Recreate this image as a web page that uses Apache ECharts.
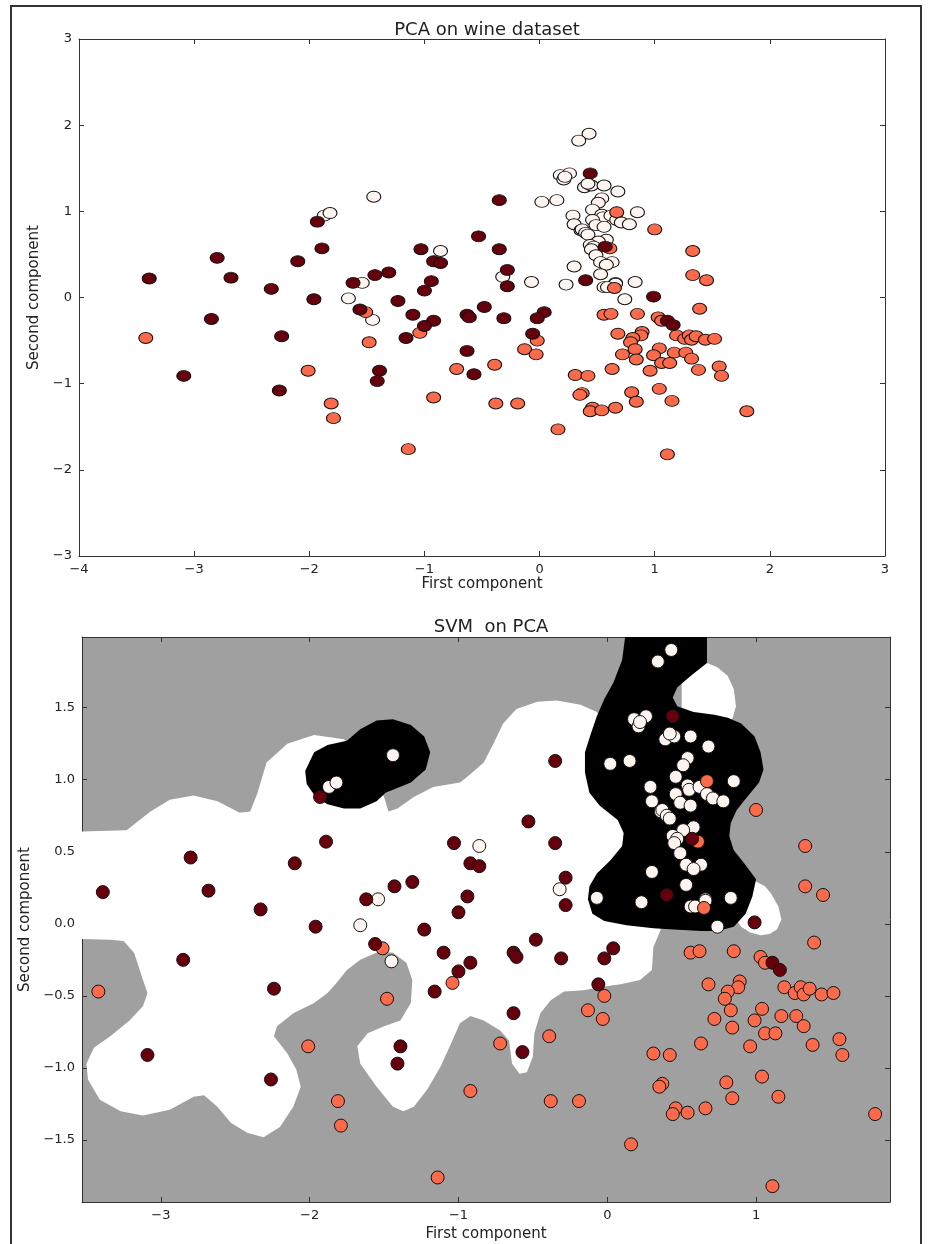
<!DOCTYPE html>
<html lang="en">
<head>
<meta charset="UTF-8">
<title>PCA / SVM on wine</title>
<script src="https://cdn.jsdelivr.net/npm/echarts@6/dist/echarts.min.js"></script>
<style>
  html, body { margin: 0; padding: 0; background: #fff; }
  #main { width: 932px; height: 1244px; }
</style>
</head>
<body>
<div id="main"></div>
<script>
// wine samples projected on the first two principal components, per class
const class0White = [
  [-1.87, 0.95], [-1.82, 0.98], [-1.44, 1.17], [-1.54, 0.17], [-1.66, -0.01], [-1.45, -0.26], [-0.86, 0.54], [-0.32, 0.24], [-0.07, 0.18],
  [0.43, 1.90], [0.34, 1.82], [0.18, 1.42], [0.26, 1.44], [0.21, 1.37], [0.22, 1.40], [0.39, 1.28], [0.45, 1.30], [0.42, 1.32], [0.56, 1.30], [0.68, 1.23],
  [0.02, 1.11], [0.15, 1.13], [0.54, 1.15], [0.51, 1.10], [0.85, 0.99], [0.46, 1.02], [0.54, 0.96], [0.55, 0.93], [0.29, 0.95], [0.62, 0.95],
  [0.46, 0.90], [0.67, 0.90], [0.71, 0.87], [0.78, 0.85], [0.30, 0.85], [0.49, 0.84], [0.56, 0.82], [0.36, 0.78], [0.37, 0.79], [0.40, 0.75], [0.42, 0.73],
  [0.58, 0.67], [0.51, 0.65], [0.44, 0.61], [0.47, 0.59], [0.45, 0.56], [0.49, 0.49], [0.63, 0.41], [0.53, 0.41], [0.58, 0.38], [0.30, 0.36], [0.53, 0.27],
  [0.23, 0.15], [0.83, 0.18], [0.66, 0.17], [0.66, 0.16], [0.56, 0.12], [0.59, 0.12], [0.74, -0.02]
];
const class1Orange = [
  [-1.51, -0.17], [0.67, 0.99], [1.00, 0.79], [0.61, 0.57], [1.33, 0.54], [1.33, 0.26], [1.45, 0.20], [0.65, 0.11], [1.39, -0.13],
  [0.56, -0.20], [0.62, -0.19], [0.85, -0.19], [1.03, -0.23], [1.06, -0.27], [0.68, -0.42], [0.89, -0.40], [0.88, -0.44], [0.81, -0.47],
  [0.79, -0.52], [1.19, -0.44], [1.26, -0.48], [1.30, -0.44], [1.32, -0.49], [1.36, -0.45], [1.44, -0.49], [1.52, -0.48], [0.83, -0.60],
  [1.04, -0.59], [1.17, -0.64], [1.27, -0.64], [0.72, -0.66], [0.99, -0.67], [0.84, -0.72], [1.32, -0.71], [1.06, -0.76], [1.13, -0.76],
  [1.56, -0.80], [0.63, -0.83], [0.96, -0.85], [1.38, -0.84], [0.31, -0.90], [0.42, -0.91], [1.58, -0.91], [1.04, -1.06], [0.37, -1.11],
  [0.35, -1.13], [0.80, -1.10], [0.84, -1.21], [1.15, -1.20], [0.46, -1.28], [0.44, -1.32], [0.54, -1.31], [0.66, -1.28], [1.80, -1.32],
  [0.16, -1.53], [1.11, -1.82], [-1.04, -0.41], [-0.02, -0.50], [-1.48, -0.52], [-0.13, -0.60], [-0.03, -0.66], [-0.39, -0.78],
  [-0.72, -0.83], [-0.92, -1.16], [-0.38, -1.23], [-0.19, -1.23], [-1.14, -1.76], [-3.42, -0.47], [-2.01, -0.85], [-1.81, -1.23], [-1.79, -1.40]
];
const class2Dark = [
  [-1.93, 0.88], [-1.89, 0.57], [-1.03, 0.56], [-2.80, 0.46], [-2.10, 0.42], [-3.39, 0.22], [-2.68, 0.23], [-1.43, 0.26], [-1.31, 0.29],
  [-1.62, 0.17], [-2.33, 0.10], [-1.96, -0.02], [-1.23, -0.04], [-1.00, 0.08], [-1.56, -0.14], [-1.10, -0.20], [0.44, 1.44], [0.57, 0.59],
  [0.40, 0.20], [0.99, 0.01], [-0.35, 1.13], [-0.53, 0.71], [-0.35, 0.56], [-0.92, 0.42], [-0.86, 0.40], [-0.28, 0.32], [-0.28, 0.13],
  [-0.94, 0.19], [-0.48, -0.11], [0.04, -0.17], [1.11, -0.27], [1.16, -0.32], [-0.63, -0.20], [-0.61, -0.23], [-0.31, -0.24], [-0.02, -0.24],
  [-0.92, -0.27], [-1.00, -0.33], [-1.16, -0.47], [-0.06, -0.42], [-0.63, -0.62], [-1.39, -0.85], [-0.57, -0.89], [-1.41, -0.97],
  [-2.85, -0.25], [-2.24, -0.45], [-3.09, -0.91], [-2.26, -1.08]
];

// decision regions of the SVM, outlines in (first, second) component units
const whiteZone = [
  [-3.7, 0.64], [-3.23, 0.65], [-3.07, 0.78], [-2.94, 0.86], [-2.78, 0.89], [-2.62, 0.85], [-2.47, 0.77], [-2.40, 0.78], [-2.35, 0.91],
  [-2.29, 1.12], [-2.15, 1.25], [-1.97, 1.31], [-1.77, 1.28], [-1.60, 1.10], [-1.50, 0.88], [-1.47, 0.78], [-1.41, 0.80], [-1.30, 0.88],
  [-1.17, 0.95], [-0.99, 0.98], [-0.94, 1.02], [-0.83, 1.12], [-0.76, 1.26], [-0.70, 1.39], [-0.61, 1.49], [-0.47, 1.54], [-0.34, 1.55],
  [-0.18, 1.52], [-0.07, 1.47], [0.20, 1.00], [0.30, 0.30], [0.36, -0.04], [0.31, -0.16], [0.30, -0.32], [0.22, -0.39], [0.09, -0.42],
  [-0.02, -0.435], [-0.16, -0.46], [-0.29, -0.47], [-0.38, -0.53], [-0.45, -0.62], [-0.49, -0.76], [-0.50, -0.92], [-0.54, -1.03],
  [-0.59, -1.04], [-0.64, -0.97], [-0.66, -0.81], [-0.72, -0.74], [-0.83, -0.67], [-0.92, -0.64], [-0.99, -0.69], [-1.05, -0.83],
  [-1.12, -0.99], [-1.21, -1.15], [-1.30, -1.27], [-1.37, -1.30], [-1.44, -1.27], [-1.55, -1.13], [-1.66, -0.97], [-1.68, -0.85],
  [-1.61, -0.76], [-1.50, -0.71], [-1.39, -0.67], [-1.32, -0.55], [-1.31, -0.39], [-1.35, -0.27], [-1.44, -0.20], [-1.53, -0.19],
  [-1.66, -0.25], [-1.75, -0.32], [-1.82, -0.41], [-1.88, -0.48], [-1.97, -0.55], [-2.11, -0.62], [-2.22, -0.71], [-2.24, -0.78],
  [-2.15, -0.90], [-2.09, -1.01], [-2.06, -1.13], [-2.11, -1.27], [-2.20, -1.41], [-2.31, -1.48], [-2.42, -1.45], [-2.53, -1.38],
  [-2.62, -1.27], [-2.71, -1.19], [-2.78, -1.20], [-2.94, -1.29], [-3.12, -1.33], [-3.27, -1.30], [-3.41, -1.22], [-3.49, -1.08],
  [-3.50, -0.97], [-3.45, -0.86], [-3.34, -0.78], [-3.21, -0.67], [-3.12, -0.57], [-3.09, -0.48], [-3.12, -0.39], [-3.18, -0.20],
  [-3.25, -0.12], [-3.34, -0.11], [-3.7, -0.106]
];
const whitePocketTop = [
  [0.62, 1.83], [0.74, 1.78], [0.81, 1.72], [0.85, 1.63], [0.865, 1.51], [0.84, 1.42], [0.60, 1.40], [0.50, 1.50], [0.50, 1.70]
];
const whitePocketRight = [
  [0.95, 0.32], [1.06, 0.26], [1.10, 0.21], [1.15, 0.12], [1.17, 0.03], [1.14, -0.04], [1.09, -0.07], [1.03, -0.08],
  [0.96, -0.06], [0.90, -0.02], [0.85, 0.05], [0.88, 0.20]
];
const blackBlobSmall = [
  [-2.03, 1.06], [-1.97, 1.19], [-1.88, 1.24], [-1.75, 1.27], [-1.66, 1.35], [-1.55, 1.41], [-1.44, 1.42], [-1.32, 1.38],
  [-1.23, 1.30], [-1.19, 1.19], [-1.22, 1.07], [-1.32, 0.98], [-1.44, 0.93], [-1.49, 0.91], [-1.55, 0.85], [-1.66, 0.80],
  [-1.77, 0.80], [-1.88, 0.83], [-1.96, 0.88], [-2.02, 0.97]
];
const blackBlobBig = [
  [0.12, 2.05], [0.67, 2.05], [0.67, 1.81], [0.56, 1.72], [0.47, 1.64], [0.44, 1.57], [0.47, 1.51], [0.58, 1.47], [0.72, 1.45],
  [0.81, 1.43], [0.90, 1.39], [0.99, 1.30], [1.03, 1.19], [1.05, 1.07], [1.02, 0.98], [0.94, 0.88], [0.87, 0.79], [0.83, 0.70],
  [0.82, 0.61], [0.85, 0.51], [0.92, 0.42], [1.00, 0.31], [0.975, 0.19], [0.93, 0.07], [0.85, -0.02], [0.74, -0.05], [0.63, -0.05],
  [0.45, -0.04], [0.31, -0.03], [0.13, -0.01], [-0.02, 0.02], [-0.10, 0.07], [-0.13, 0.17], [-0.12, 0.26], [-0.07, 0.35],
  [0.02, 0.44], [0.10, 0.54], [0.11, 0.63], [0.07, 0.72], [-0.05, 0.82], [-0.12, 0.91], [-0.15, 1.05], [-0.15, 1.19], [-0.11, 1.32],
  [-0.07, 1.44], [-0.02, 1.56], [0.04, 1.67], [0.10, 1.83]
];

// tick values
const topXTicks = [-4, -3, -2, -1, 0, 1, 2, 3];
const topYTicks = [-3, -2, -1, 0, 1, 2, 3];
const svmXTicks = [-3, -2, -1, 0, 1];
const svmYTicks = [-1.5, -1.0, -0.5, 0.0, 0.5, 1.0, 1.5];

const FONT = 'DejaVu Sans';
const minus = s => String(s).replace('-', '\u2212');

const regionLayers = [
  { shape: whiteZone, fill: '#ffffff' },
  { shape: whitePocketTop, fill: '#ffffff' },
  { shape: whitePocketRight, fill: '#ffffff' },
  { shape: blackBlobSmall, fill: '#000000' },
  { shape: blackBlobBig, fill: '#000000' }
];

const frameLine = { show: true, onZero: false, lineStyle: { color: '#333', width: 1 } };
const tickIn = { show: true, inside: true, length: 5, lineStyle: { color: '#333' } };

function axisPair(kind, gridIndex, min, max, ticks, fmt, extra) {
  const main = Object.assign({
    type: 'value', gridIndex, min, max,
    position: kind === 'x' ? 'bottom' : 'left',
    axisLine: frameLine,
    axisTick: Object.assign({ customValues: ticks }, tickIn),
    axisLabel: { customValues: ticks, formatter: fmt, color: '#222', fontSize: 13, fontFamily: FONT, margin: 7 },
    splitLine: { show: false }
  }, extra);
  const mirror = {
    type: 'value', gridIndex, min, max,
    position: kind === 'x' ? 'top' : 'right',
    axisLine: frameLine,
    axisTick: Object.assign({ customValues: ticks }, tickIn),
    axisLabel: { show: false },
    splitLine: { show: false }
  };
  return [main, mirror];
}

function axisName(text, gap, rotate) {
  return {
    name: text, nameLocation: 'middle', nameGap: gap, nameRotate: rotate,
    nameTextStyle: { fontSize: 15, color: '#222', fontFamily: FONT }
  };
}

const xAxes = [
  ...axisPair('x', 0, -4, 3, topXTicks, v => minus(v), axisName('First component', 20, 0)),
  ...axisPair('x', 1, -3.53, 1.9, svmXTicks, v => minus(v), axisName('First component', 25, 0))
];
const yAxes = [
  ...axisPair('y', 0, -3, 3, topYTicks, v => minus(v), axisName('Second component', 37, 90)),
  ...axisPair('y', 1, -1.93, 1.99, svmYTicks, v => minus(Number(v).toFixed(1)), axisName('Second component', 45, 90))
];

function scatterOf(data, color, axis, size) {
  return {
    type: 'scatter', data, xAxisIndex: axis, yAxisIndex: axis,
    symbol: 'circle', symbolSize: size,
    itemStyle: { color, borderColor: '#111', borderWidth: 1, opacity: 1 },
    silent: true, z: 5
  };
}

const option = {
  animation: false,
  backgroundColor: '#fff',
  textStyle: { fontFamily: FONT },
  title: [
    { text: 'PCA on wine dataset', left: 482, top: 16, textAlign: 'center',
      textStyle: { fontSize: 18, fontWeight: 'normal', color: '#222', fontFamily: FONT } },
    { text: 'SVM  on PCA', left: 486, top: 613, textAlign: 'center',
      textStyle: { fontSize: 18, fontWeight: 'normal', color: '#222', fontFamily: FONT } }
  ],
  grid: [
    { left: 79, top: 39, width: 806, height: 517, show: true, backgroundColor: '#fff', borderWidth: 0 },
    { left: 82, top: 637, width: 808, height: 565, show: true, backgroundColor: '#a0a0a0', borderWidth: 0 }
  ],
  xAxis: xAxes,
  yAxis: yAxes,
  graphic: [{
    type: 'rect', silent: true,
    shape: { x: 11, y: 6, width: 910, height: 1260 },
    style: { fill: 'none', stroke: '#333', lineWidth: 2 }
  }],
  series: [
    scatterOf(class0White, '#fff5f0', 0, [14, 11]),
    scatterOf(class1Orange, '#fb6a4a', 0, [14, 11]),
    scatterOf(class2Dark, '#67000d', 0, [14, 11]),
    {
      type: 'custom', xAxisIndex: 2, yAxisIndex: 2, silent: true, z: 1,
      data: regionLayers.map(() => [0, 0]),
      renderItem: function (params, api) {
        const layer = regionLayers[params.dataIndex];
        const pts = layer.shape.map(p => api.coord(p));
        const cs = params.coordSys;
        return {
          type: 'polygon',
          shape: { points: echarts.graphic.clipPointsByRect(pts, { x: cs.x, y: cs.y, width: cs.width, height: cs.height }) },
          style: { fill: layer.fill, stroke: null }
        };
      }
    },
    scatterOf(class0White, '#fff5f0', 2, 13),
    scatterOf(class1Orange, '#fb6a4a', 2, 13),
    scatterOf(class2Dark, '#67000d', 2, 13)
  ]
};

const myChart = echarts.init(document.getElementById('main'));
myChart.setOption(option);
</script>
</body>
</html>
